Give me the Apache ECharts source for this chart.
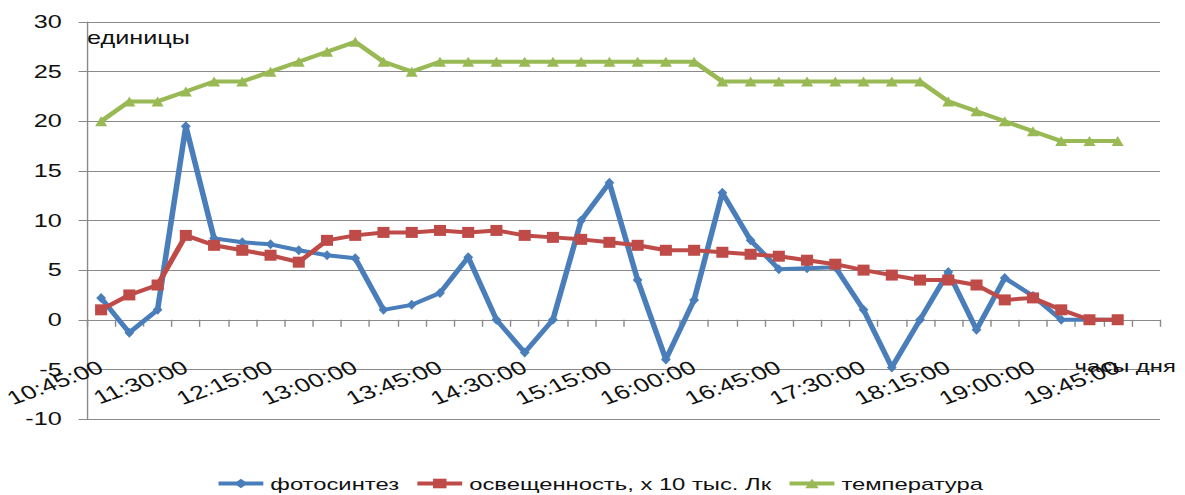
<!DOCTYPE html>
<html>
<head>
<meta charset="utf-8">
<script src="https://cdn.jsdelivr.net/npm/echarts@6/dist/echarts.min.js"></script>
<style>
  html, body { margin: 0; padding: 0; background: #fff; }
  #wrap { width: 1185px; height: 495px; overflow: hidden; position: relative; }
  /* the chart is laid out narrow and widened, giving the broad lettering and markers */
  #chart { width: 846px; height: 495px; transform: scaleX(1.4007); transform-origin: 0 0; }
</style>
</head>
<body>
<div id="wrap"><div id="chart"></div></div>
<script>
// time of day, every 15 minutes
const categories = [
  '10:45:00','11:00:00','11:15:00','11:30:00','11:45:00','12:00:00','12:15:00','12:30:00',
  '12:45:00','13:00:00','13:15:00','13:30:00','13:45:00','14:00:00','14:15:00','14:30:00',
  '14:45:00','15:00:00','15:15:00','15:30:00','15:45:00','16:00:00','16:15:00','16:30:00',
  '16:45:00','17:00:00','17:15:00','17:30:00','17:45:00','18:00:00','18:15:00','18:30:00',
  '18:45:00','19:00:00','19:15:00','19:30:00','19:45:00','20:00:00'
];

const photosynthesis = [
  2.2, -1.3, 1.0, 19.5, 8.2, 7.8, 7.6, 7.0, 6.5, 6.2, 1.0, 1.5, 2.7, 6.3, 0, -3.3,
  0, 10.0, 13.8, 4.0, -4.0, 2.0, 12.8, 8.0, 5.1, 5.2, 5.3, 1.0, -4.8, 0, 4.8, -1.0,
  4.2, 2.4, 0, 0, 0
];

const illumination = [
  1.0, 2.5, 3.5, 8.5, 7.5, 7.0, 6.5, 5.8, 8.0, 8.5, 8.8, 8.8, 9.0, 8.8, 9.0, 8.5,
  8.3, 8.1, 7.8, 7.5, 7.0, 7.0, 6.8, 6.6, 6.4, 6.0, 5.6, 5.0, 4.5, 4.0, 4.0, 3.5,
  2.0, 2.2, 1.0, 0, 0
];

const temperature = [
  20, 22, 22, 23, 24, 24, 25, 26, 27, 28, 26, 25, 26, 26, 26, 26,
  26, 26, 26, 26, 26, 26, 24, 24, 24, 24, 24, 24, 24, 24, 22, 21,
  20, 19, 18, 18, 18
];

const seriesNames = ['фотосинтез', 'освещенность, х 10 тыс. Лк', 'температура'];
const yTicks = { min: -10, max: 30, step: 5 };

const FONT = 'Liberation Sans';
const TEXT = '#111';
const GRID = '#8a8a8a';
const GRID_BOTTOM = 76;
const CHART_H = 495;

const chart = echarts.init(document.getElementById('chart'), null, { renderer: 'svg' });

function lineSeries(name, data, color, symbol, size) {
  return {
    name: name,
    type: 'line',
    data: data,
    symbol: symbol,
    symbolSize: size,
    showAllSymbol: true,
    lineStyle: { color: color, width: 4 },
    itemStyle: { color: color, borderWidth: 0 },
    animation: false
  };
}

chart.setOption({
  backgroundColor: '#fff',
  animation: false,
  textStyle: { fontFamily: FONT, color: TEXT },
  grid: {
    left: 62.1, right: 17.8, top: 22, bottom: GRID_BOTTOM,
    containLabel: false, outerBoundsMode: 'none'
  },
  legend: {
    left: 149,
    top: 470,
    itemWidth: 32,
    itemHeight: 12,
    itemGap: 11,
    lineStyle: { width: 4 },
    textStyle: { fontFamily: FONT, fontSize: 17, color: TEXT },
    data: seriesNames
  },
  xAxis: {
    type: 'category',
    data: categories,
    boundaryGap: true,
    name: 'часы дня',
    nameLocation: 'end',
    nameGap: -61,
    nameMoveOverlap: false,
    nameTruncate: { maxWidth: 300 },
    nameTextStyle: {
      fontFamily: FONT, fontSize: 17, color: TEXT,
      align: 'left', verticalAlign: 'top', padding: [38, 0, 0, 0]
    },
    axisLine: { onZero: false, lineStyle: { color: GRID, width: 1 } },
    axisTick: { show: true, interval: 0, length: 7, lineStyle: { color: GRID } },
    axisLabel: {
      interval: 2,
      rotate: 27,
      margin: 46,
      fontFamily: FONT,
      fontSize: 19,
      color: TEXT
    },
    splitLine: { show: false }
  },
  yAxis: {
    type: 'value',
    min: yTicks.min,
    max: yTicks.max,
    interval: yTicks.step,
    name: 'единицы',
    nameLocation: 'end',
    nameGap: -16,
    nameTextStyle: {
      fontFamily: FONT, fontSize: 18, color: TEXT,
      align: 'left', verticalAlign: 'middle'
    },
    axisLine: { show: true, lineStyle: { color: GRID, width: 1 } },
    axisTick: { show: true, length: 6, lineStyle: { color: GRID } },
    axisLabel: { margin: 18, fontFamily: FONT, fontSize: 18, color: TEXT },
    splitLine: { show: true, lineStyle: { color: GRID, width: 1 } }
  },
  series: [
    lineSeries(seriesNames[0], photosynthesis, '#4a7ebb', 'diamond', [7, 10]),
    lineSeries(seriesNames[1], illumination, '#be4b48', 'rect', [8.6, 11]),
    lineSeries(seriesNames[2], temperature, '#98b954', 'triangle', [8.6, 10])
  ]
});

// move the category axis (line, ticks, labels) up to the value 0
const zeroY = chart.convertToPixel({ yAxisIndex: 0 }, 0);
chart.setOption({ xAxis: { offset: -((CHART_H - GRID_BOTTOM) - zeroY) } });
</script>
</body>
</html>
